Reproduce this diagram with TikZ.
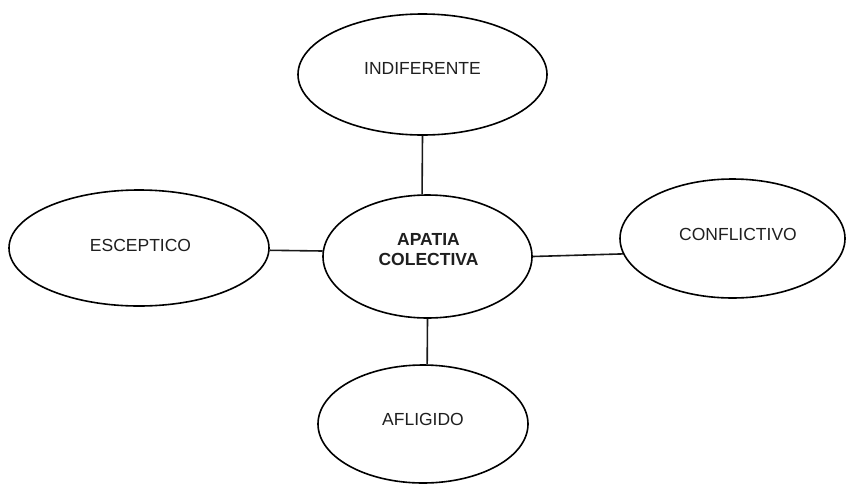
\documentclass[tikz,border=0pt]{standalone}
\usepackage{fontspec}
\setmainfont{Liberation Sans}
\usetikzlibrary{shapes.geometric}
\begin{document}
\begin{tikzpicture}[x=1pt,y=1pt,
  bubble/.style={draw=black,ellipse,line width=1.6pt,inner sep=0pt,fill=white},
  word/.style={font=\fontsize{17.5}{20}\selectfont,text=black!88,inner sep=0pt,align=center},
  link/.style={draw=black!90,line width=1.6pt}]
  \useasboundingbox[fill=white] (0,0) rectangle (846,-485);

  % bubbles
  \node[bubble,minimum width=249pt,minimum height=121pt] (indif)  at (422.5,-74.5) {};
  \node[bubble,minimum width=260pt,minimum height=116pt] (escep)  at (139,-248) {};
  \node[bubble,minimum width=209pt,minimum height=123pt] (apatia) at (427.5,-256.5) {};
  \node[bubble,minimum width=225pt,minimum height=119pt] (conf)   at (732.5,-238.5) {};
  \node[bubble,minimum width=210pt,minimum height=118pt] (afli)   at (423,-424) {};

  % connectors
  \draw[link] (indif.south) -- (apatia.95);
  \draw[link] (escep.-1) -- (apatia.177);
  \draw[link] (apatia.east) -- (conf.188);
  \draw[link] (apatia.south) -- (afli.86);

  % labels
  \node[word] (tindif)  at (422.5,-68) {INDIFERENTE};
  \node[word] (tescep)  at (140.5,-245) {ESCEPTICO};
  \node[word,font=\fontsize{17.5}{20}\selectfont\bfseries] (tapatia) at (428.5,-250) {APATIA\\COLECTIVA};
  \node[word] (tconf)   at (738,-234) {CONFLICTIVO};
  \node[word] (tafli)   at (423,-419) {AFLIGIDO};
\end{tikzpicture}
\end{document}
